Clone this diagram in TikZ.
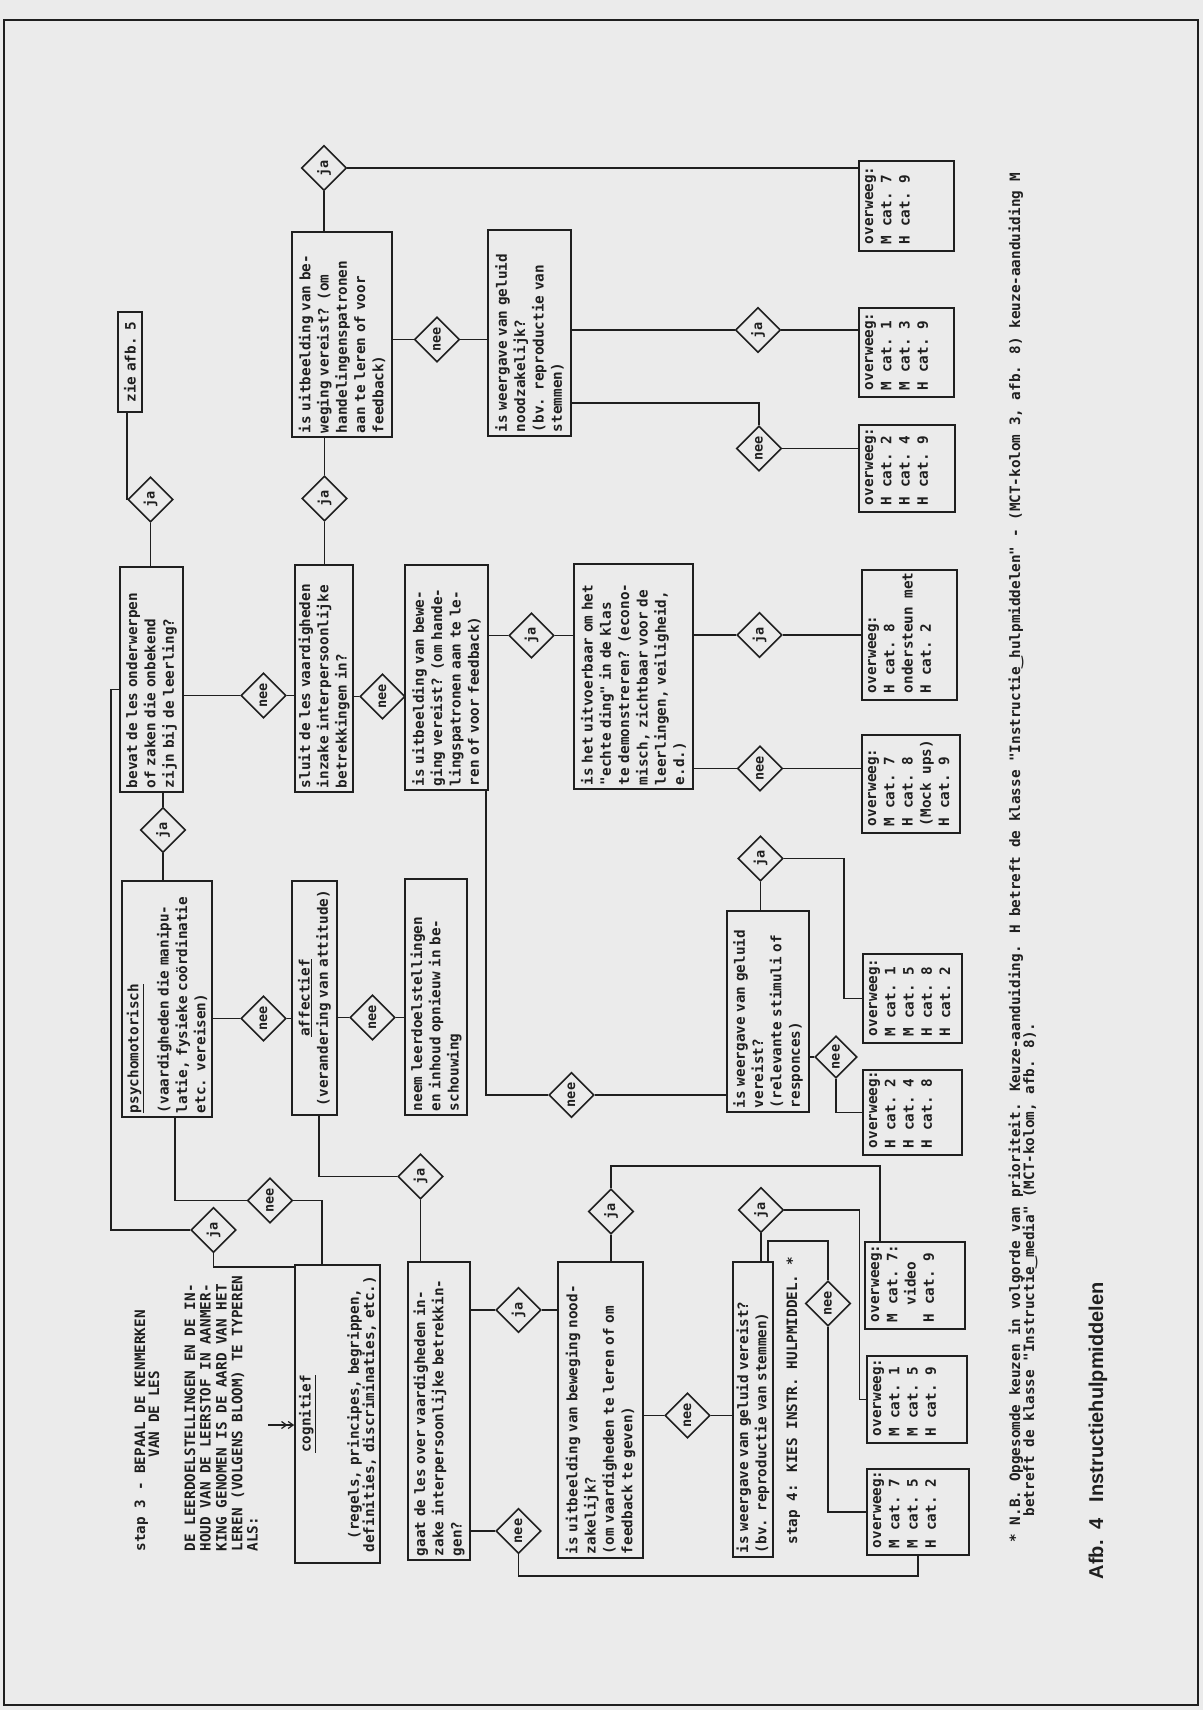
\documentclass[tikz,border=0pt]{standalone}
\usepackage{fontspec}
\usepackage{graphicx}
\usetikzlibrary{shapes.geometric,arrows.meta}

\newfontfamily\typw[WordSpace={1,0,0}]{DejaVu Sans Mono}
\newfontfamily\capsans{Liberation Sans}
\newfontfamily\symf{DejaVu Sans}
\newcommand{\boxfont}{\typw\bfseries\fontsize{14.3}{18.3}\selectfont}
\newcommand{\decfont}{\typw\bfseries\fontsize{13.5}{16}\selectfont}
% overweeg box text: width, height, lines (top aligned)
\newcommand{\ovw}[3]{\parbox[c][#2pt][t]{#1pt}{\leftskip=7pt\rule{0pt}{14pt}#3}}
\newcommand{\dlab}[1]{\rotatebox{90}{#1}}

\definecolor{paper}{gray}{0.92}
\definecolor{ink}{gray}{0.12}

\begin{document}
\begin{tikzpicture}[
  x=1pt, y=-1pt, line width=1.6pt, color=ink,
  qbox/.code 2 args={\pgfmathsetlengthmacro\qtw{#1pt-8pt}%
    \tikzset{draw, rotate=90, inner xsep=4pt, inner ysep=0pt, align=left,
             font=\boxfont, minimum width=#1pt, minimum height=#2pt, text width=\qtw}},
  obox/.style={draw, rotate=90, inner sep=0pt, font=\boxfont},
  dec/.style={draw, diamond, minimum width=45pt, minimum height=45pt,
              inner sep=0pt, font=\decfont},
  txt/.style={rotate=90, anchor=base west, inner sep=0pt, font=\boxfont},
  dblarr/.style={-{Straight Barb[length=5pt,width=7pt]Straight Barb[length=5pt,width=7pt]}}
]
\useasboundingbox (0,0) rectangle (1203,1710);
\fill[paper] (0,0) rectangle (1203,1710);
\draw[line width=2pt] (4,20) rectangle (1198,1705);

%% ---------------------------------------------------------------
%% texts (the whole sheet is turned a quarter to the left)
%% ---------------------------------------------------------------
\node[txt] (t1) at (145,1552) {stap 3 - BEPAAL DE KENMERKEN};
\node[txt] (t2) at (159,1458) {VAN DE LES};
\node[txt] (t3) at (195,1552) {DE LEERDOELSTELLINGEN EN DE IN-};
\node[txt] (t4) at (210.7,1552) {HOUD VAN DE LEERSTOF IN AANMER-};
\node[txt] (t5) at (226.7,1552) {KING GENOMEN IS DE AARD VAN HET};
\node[txt] (t6) at (242.3,1552) {LEREN (VOLGENS BLOOM) TE TYPEREN};
\node[txt] (t7) at (257.7,1552) {ALS:};
\node[txt] (stap4) at (797,1545) {stap 4: KIES INSTR. HULPMIDDEL. *};
\node[txt] (nb1) at (1020,1543) {* N.B. Opgesomde keuzen in volgorde van prioriteit. Keuze-aanduiding. H betreft de klasse "Instructie\makebox[8.6pt]{\symf ‿}hulpmiddelen" - (MCT-kolom 3, afb. 8) keuze-aanduiding M};
\node[txt] (nb2) at (1034,1517) {betreft de klasse "Instructie\makebox[8.6pt]{\symf ‿}media" (MCT-kolom, afb. 8).};
\node[txt, font=\capsans\bfseries\fontsize{20}{24}\selectfont] (afb) at (1103,1580)
  {Afb.\hspace{11pt}4\hspace{16pt}Instructiehulpmiddelen};

%% ---------------------------------------------------------------
%% question boxes
%% ---------------------------------------------------------------
\node[qbox={292}{85}, align=center, text width=290pt] (cog) at (337.5,1414)
  {\underline{cognitief}\\[30pt](regels, principes, begrippen,\\[-3pt]definities, discriminaties, etc.)};
\node[qbox={236}{90}] (psy) at (167,999)
  {\underline{psychomotorisch}\\[12pt](vaardigheden die manipu-\\latie, fysieke coördinatie\\etc. vereisen)};
\node[qbox={234}{45}, align=center] (aff) at (314.5,998)
  {\underline{affectief}\\(verandering van attitude)};
\node[qbox={236}{62}] (neem) at (436,997)
  {neem leerdoelstellingen\\en inhoud opnieuw in be-\\schouwing};
\node[qbox={225}{63}] (bevat) at (151.5,679.5)
  {bevat de les onderwerpen\\of zaken die onbekend\\zijn bij de leerling?};
\node[qbox={100}{24}, align=center] (zie) at (130,362) {zie afb. 5};
\node[qbox={227}{58}] (sluit) at (324,678.5)
  {sluit de les vaardigheden\\inzake interpersoonlijke\\betrekkingen in?};
\node[qbox={205}{100}] (uitA) at (342,334.5)
  {is uitbeelding van be-\\weging vereist? (om\\handelingenspatronen\\aan te leren of voor\\feedback)};
\node[qbox={206}{83}] (weerA) at (529.5,333)
  {is weergave van geluid\\noodzakelijk?\\(bv. reproductie van\\stemmen)};
\node[qbox={225}{83}] (uitB) at (446.5,677.5)
  {is uitbeelding van bewe-\\ging vereist? (om hande-\\lingspatronen aan te le-\\ren of voor feedback)};
\node[qbox={225}{119}] (echt) at (633.5,676.5)
  {is het uitvoerbaar om het\\"echte ding" in de klas\\te demonstreren? (econo-\\misch, zichtbaar voor de\\leerlingen, veiligheid,\\e.d.)};
\node[qbox={201}{82}] (weerB) at (768,1011.5)
  {is weergave van geluid\\vereist?\\(relevante stimuli of\\responces)};
\node[qbox={298}{62}] (gaat) at (439,1411)
  {gaat de les over vaardigheden in-\\zake interpersoonlijke betrekkin-\\gen?};
\node[qbox={296}{85}] (uitC) at (600.5,1410)
  {is uitbeelding van beweging nood-\\zakelijk?\\(om vaardigheden te leren of om\\feedback te geven)};
\node[qbox={295}{40}] (weerC) at (753,1409.5)
  {is weergave van geluid vereist?\\(bv. reproductie van stemmen)};

%% ---------------------------------------------------------------
%% overweeg boxes
%% ---------------------------------------------------------------
\node[obox] (ow1)  at (906.5,206)   {\ovw{90}{95}{overweeg:\\M~cat.~7\\H~cat.~9}};
\node[obox] (ow2)  at (906.5,352.5) {\ovw{89}{95}{overweeg:\\M~cat.~1\\M~cat.~3\\H~cat.~9}};
\node[obox] (ow3)  at (907,468.5)   {\ovw{87}{96}{overweeg:\\H~cat.~2\\H~cat.~4\\H~cat.~9}};
\node[obox] (ow4)  at (909.5,635)   {\ovw{130}{95}{overweeg:\\H~cat.~8\\ondersteun~met\\H~cat.~2}};
\node[obox] (ow5)  at (911,784)     {\ovw{98}{98}{overweeg:\\M~cat.~7\\H~cat.~8\\(Mock~ups)\\H~cat.~9}};
\node[obox] (ow6)  at (912.5,998.5) {\ovw{89}{99}{overweeg:\\M~cat.~1\\M~cat.~5\\H~cat.~8\\H~cat.~2}};
\node[obox] (ow7)  at (912.5,1112.5){\ovw{85}{99}{overweeg:\\H~cat.~2\\H~cat.~4\\H~cat.~8}};
\node[obox] (ow8)  at (915,1285.5)  {\ovw{87}{100}{overweeg:\\M~cat.~7:\\\hspace*{17pt}video\\H~cat.~9}};
\node[obox] (ow9)  at (917,1399.5)  {\ovw{87}{100}{overweeg:\\M~cat.~1\\M~cat.~5\\H~cat.~9}};
\node[obox] (ow10) at (918,1512)    {\ovw{86}{102}{overweeg:\\M~cat.~7\\M~cat.~5\\H~cat.~2}};

%% ---------------------------------------------------------------
%% ja / nee
%% ---------------------------------------------------------------
\node[dec] (d1)  at (150.5,499.5)  {\dlab{ja}};
\node[dec] (d2)  at (163,830)      {\dlab{ja}};
\node[dec] (d3)  at (263.5,695.5)  {\dlab{nee}};
\node[dec] (d4)  at (382.5,696.5)  {\dlab{nee}};
\node[dec] (d5)  at (324.5,498.5)  {\dlab{ja}};
\node[dec] (d6)  at (324,168)      {\dlab{ja}};
\node[dec] (d7)  at (437,339.5)    {\dlab{nee}};
\node[dec] (d8)  at (758,330)      {\dlab{ja}};
\node[dec] (d9)  at (759,448.5)    {\dlab{nee}};
\node[dec] (d10) at (531.5,635.5)  {\dlab{ja}};
\node[dec] (d11) at (759.5,635)    {\dlab{ja}};
\node[dec] (d12) at (760,768.5)    {\dlab{nee}};
\node[dec] (d13) at (571.5,1095)   {\dlab{nee}};
\node[dec] (d14) at (760.5,858.5)  {\dlab{ja}};
\node[dec, minimum width=42pt, minimum height=42pt] (d15) at (836,1057) {\dlab{nee}};
\node[dec] (d16) at (263.5,1018.5) {\dlab{nee}};
\node[dec] (d17) at (372.5,1017.5) {\dlab{nee}};
\node[dec] (d18) at (420.5,1176.5) {\dlab{ja}};
\node[dec] (d19) at (270,1200.5)   {\dlab{nee}};
\node[dec] (d20) at (213.5,1230)   {\dlab{ja}};
\node[dec] (d21) at (518.5,1310)   {\dlab{ja}};
\node[dec] (d22) at (518.5,1531)   {\dlab{nee}};
\node[dec] (d23) at (611,1211.5)   {\dlab{ja}};
\node[dec] (d24) at (687.5,1415.5) {\dlab{nee}};
\node[dec] (d25) at (761,1210)     {\dlab{ja}};
\node[dec] (d26) at (828,1303.5)   {\dlab{nee}};

%% ---------------------------------------------------------------
%% connectors
%% ---------------------------------------------------------------
\coordinate (ain) at (268,1425);
\draw[dblarr, line width=1.2pt] (ain) -- (ain -| cog.north);

\draw ([yshift=-3pt]cog.north east) -| (d20.south);
\draw (d20.west) -- ++(-79,0) |- ([yshift=-10pt]bevat.north);
\draw (d19.east) -| ([xshift=-15.5pt]cog.east);
\draw ([xshift=8pt]psy.west) |- (d19.west);
\draw (psy.south |- d16.west) -- (d16.west);
\draw (d16.east) -- (d16.east -| aff.north);
\draw (aff.south |- d17.west) -- (d17.west);
\draw (d17.east) -- (d17.east -| neem.north);
\draw ([xshift=4.5pt]aff.west) |- (d18.west);
\draw (d18.south) -- (d18.south |- gaat.east);

\draw (zie.west -| d1.west) -- (d1.west);
\draw (d1.south) -- (d1.south |- bevat.east);
\draw (bevat.west -| d2.north) -- (d2.north);
\draw (d2.south) -- (d2.south |- psy.east);
\draw (bevat.south |- d3.west) -- (d3.west);
\draw (d3.east) -- (d3.east -| sluit.north);
\draw (sluit.south |- d4.west) -- (d4.west);
\draw (d4.east) -- (d4.east -| uitB.north);
\draw (d5.south) -- (d5.south |- sluit.east);
\draw (d5.north) -- (d5.north |- uitA.west);
\draw (d6.south) -- (d6.south |- uitA.east);
\draw (d6.east) -- (d6.east -| ow1.north);
\draw (uitA.south |- d7.west) -- (d7.west);
\draw (d7.east) -- (d7.east -| weerA.north);
\draw (weerA.south |- d8.west) -- (d8.west);
\draw (d8.east) -- (d8.east -| ow2.north);
\draw ([yshift=-70pt]weerA.south) -| (d9.north);
\draw (d9.east) -- (d9.east -| ow3.north);

\draw (uitB.south |- d10.west) -- (d10.west);
\draw (d10.east) -- (d10.east -| echt.north);
\draw (echt.south |- d11.west) -- (d11.west);
\draw (d11.east) -- (d11.east -| ow4.north);
\draw (echt.south |- d12.west) -- (d12.west);
\draw (d12.east) -- (d12.east -| ow5.north);
\draw ([xshift=-3pt]uitB.south west) |- (d13.west);
\draw (d13.east) -- (d13.east -| weerB.north);
\draw (d14.south) -- (d14.south |- weerB.east);
\draw (d14.east) -- ++(60,0) |- (ow6.north);
\draw (weerB.south |- d15.west) -- (d15.west);
\draw (d15.south) |- (ow7.north);

\draw (gaat.south |- d21.west) -- (d21.west);
\draw (d21.east) -- (d21.east -| uitC.north);
\draw (gaat.south |- d22.west) -- (d22.west);
\draw (d22.south) |- ([yshift=-20pt]ow10.west) -- (ow10.west);
\draw (d23.south) -- (d23.south |- uitC.east);
\draw (d23.north) -- ++(0,-22) -| ([xshift=-35pt]ow8.east);
\draw (uitC.south |- d24.west) -- (d24.west);
\draw (d24.east) -- (d24.east -| weerC.north);
\draw (d25.south) -- (d25.south |- weerC.east);
\draw (d25.east) -- ++(75,0) |- (ow9.north);
\draw ([xshift=15pt]weerC.east) -- ++(0,-20) -| (d26.north);
\draw (d26.south) |- (ow10.north);

\end{tikzpicture}
\end{document}
